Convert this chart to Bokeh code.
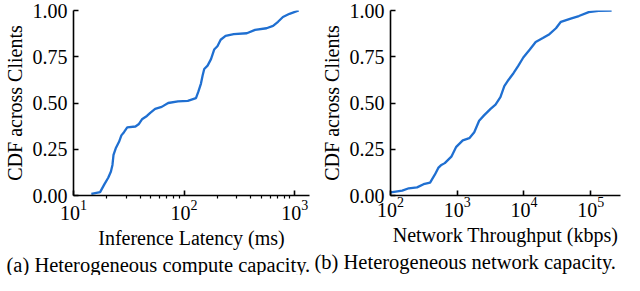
from bokeh.plotting import figure
from bokeh.models import Range1d, FixedTicker, LogTickFormatter, PrintfTickFormatter, Title
from bokeh.layouts import row
from bokeh.embed import file_html
from bokeh.resources import INLINE

# ---- data ----
latency_ms = [14.5, 17.4, 19.0, 20.6, 21.8, 22.5, 23.0, 24.1, 25.8, 27.1, 28.6, 30.6,
              36.3, 38.8, 41.6, 46.1, 49.4, 54.7, 62.7, 71.8, 88.0, 108.0, 128.0,
              134.5, 142.0, 147.0, 152.0, 163.0, 175.0, 187.0, 200.0, 214.0, 237.0,
              281.0, 369.0, 438.0, 556.0, 637.0, 706.0, 782.0, 897.0, 1087.0]
latency_cdf = [0.009, 0.018, 0.06, 0.096, 0.13, 0.165, 0.22, 0.255, 0.29, 0.325, 0.342, 0.368,
               0.373, 0.385, 0.412, 0.43, 0.447, 0.468, 0.479, 0.5, 0.509, 0.512, 0.526,
               0.561, 0.605, 0.649, 0.684, 0.702, 0.737, 0.789, 0.807, 0.842, 0.863,
               0.872, 0.877, 0.895, 0.904, 0.917, 0.939, 0.965, 0.982, 1.0]

throughput_kbps = [101, 150, 188, 250, 313, 392, 464, 520, 569, 651, 817, 967, 1211, 1518,
                   1800, 2130, 2520, 3162, 3750, 4440, 5080, 5890, 6970, 8260, 9780,
                   12250, 15000, 19200, 24100, 30200, 35800, 50200, 66600, 93500,
                   131000, 206000]
throughput_cdf = [0.017, 0.026, 0.039, 0.044, 0.061, 0.07, 0.114, 0.149, 0.163, 0.175, 0.21,
                  0.263, 0.298, 0.31, 0.342, 0.404, 0.433, 0.468, 0.491, 0.532, 0.591,
                  0.626, 0.661, 0.702, 0.746, 0.789, 0.83, 0.851, 0.872, 0.904, 0.939,
                  0.956, 0.97, 0.991, 0.998, 1.0]

y_ticks = [0.0, 0.25, 0.5, 0.75, 1.0]
left_x_ticks = [10, 100, 1000]
left_minor = [20, 30, 40, 50, 60, 70, 80, 90, 200, 300, 400, 500, 600, 700, 800, 900]
right_x_ticks = [100, 1000, 10000, 100000]

y_label = "CDF across Clients"
left_x_label = "Inference Latency (ms)"
right_x_label = "Network Throughput (kbps)"
left_caption = "(a) Heterogeneous compute capacity."
right_caption = "(b) Heterogeneous network capacity."

FONT = "Liberation Serif"
BLUE = "#1f6fd1"


def make_fig(xs, ys, x_range, x_ticks, minor, xlabel, caption, border_left, border_right, cap_offset):
    p = figure(width=312, height=275, x_axis_type="log",
               x_range=Range1d(*x_range), y_range=Range1d(0, 1),
               output_backend="svg", toolbar_location=None, title=None,
               min_border_left=border_left, min_border_right=border_right,
               min_border_top=10, min_border_bottom=0)
    p.outline_line_color = None
    p.xgrid.visible = False
    p.ygrid.visible = False
    p.background_fill_color = "white"
    p.border_fill_color = "white"

    p.line(xs, ys, line_color=BLUE, line_width=2.3)

    xa = p.xaxis[0]
    xa.ticker = FixedTicker(ticks=x_ticks, minor_ticks=minor)
    xa.formatter = LogTickFormatter()
    xa.axis_label = xlabel
    ya = p.yaxis[0]
    ya.ticker = FixedTicker(ticks=y_ticks, minor_ticks=[])
    ya.formatter = PrintfTickFormatter(format="%.2f")
    ya.axis_label = y_label

    for ax in (xa, ya):
        ax.axis_line_width = 1.6
        ax.axis_line_color = "black"
        ax.major_tick_line_width = 1.6
        ax.major_tick_line_color = "black"
        ax.major_tick_in = 5
        ax.major_tick_out = 0
        ax.minor_tick_line_width = 1.2
        ax.minor_tick_line_color = "black"
        ax.minor_tick_in = 0
        ax.minor_tick_out = 3
        ax.major_label_text_font = FONT
        ax.major_label_text_font_size = "20px"
        ax.major_label_text_color = "black"
        ax.axis_label_text_font = FONT
        ax.axis_label_text_font_size = "20px"
        ax.axis_label_text_font_style = "normal"
        ax.axis_label_text_color = "black"
    xa.major_label_standoff = 1
    xa.axis_label_standoff = 4
    ya.major_label_standoff = 6
    ya.axis_label_standoff = 4

    t = Title(text=caption, text_font=FONT, text_font_size="20.5px",
              text_font_style="normal", text_color="black",
              align="left", offset=cap_offset, standoff=0)
    p.add_layout(t, "below")
    return p


p1 = make_fig(latency_ms, latency_cdf, (10, 1360), left_x_ticks, left_minor,
              left_x_label, left_caption, 69, 3, -67)
p2 = make_fig(throughput_kbps, throughput_cdf, (100, 2.8e5), right_x_ticks, [],
              right_x_label, right_caption, 78, 4, -76)

layout = row(p1, p2)
open("out.html", "w").write(file_html(layout, INLINE))
